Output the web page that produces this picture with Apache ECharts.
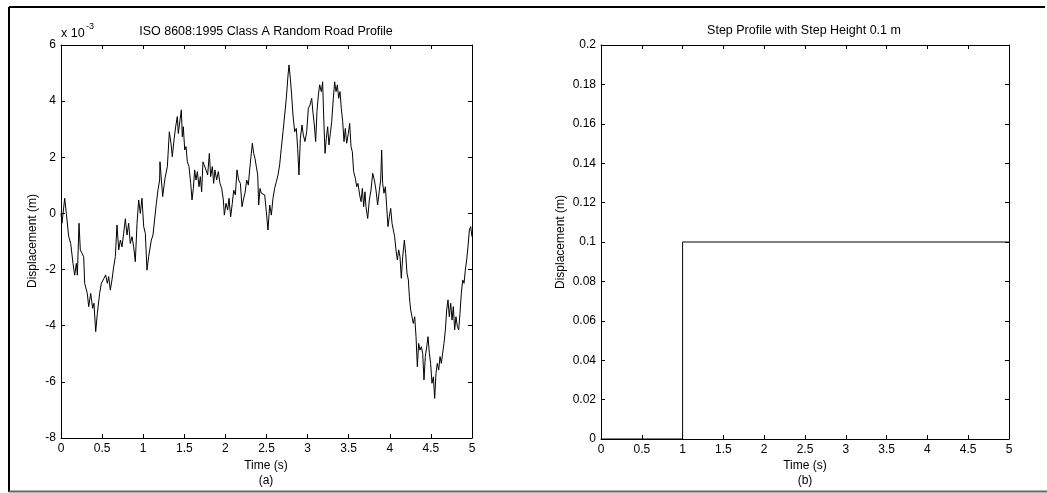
<!DOCTYPE html>
<html>
<head>
<meta charset="utf-8">
<script src="https://cdn.jsdelivr.net/npm/echarts@6/dist/echarts.min.js"></script>
<style>
  html, body { margin: 0; padding: 0; background: #fff; }
  #chart { width: 1047px; height: 493px; }
</style>
</head>
<body>
<div id="chart"></div>
<script>
// ---- Data (a): ISO 8608 Class A random road profile, displacement in units of 1e-3 m ----
const timeA = [
  0.000,0.012,0.045,0.065,0.093,0.118,0.146,0.166,0.187,0.199,
  0.219,0.235,0.255,0.276,0.288,0.320,0.337,0.361,0.385,0.401,
  0.422,0.442,0.470,0.491,0.523,0.543,0.564,0.580,0.600,0.620,
  0.641,0.661,0.681,0.702,0.722,0.742,0.762,0.783,0.803,0.823,
  0.843,0.864,0.884,0.904,0.925,0.945,0.965,0.985,1.006,1.026,
  1.046,1.066,1.083,1.099,1.119,1.139,1.160,1.180,1.200,
  1.204,1.237,1.265,1.294,1.318,1.338,1.354,1.375,1.395,1.415,
  1.427,1.448,1.464,1.476,1.488,1.505,1.521,1.537,1.557,1.578,
  1.594,1.610,1.626,1.642,1.659,1.679,1.695,1.711,1.727,1.748,
  1.764,1.784,1.805,1.821,1.841,1.857,1.873,1.894,1.914,1.934,
  1.955,1.975,1.987,2.007,2.028,2.044,2.064,2.084,2.101,2.121,
  2.141,2.161,2.182,2.202,2.218,2.238,2.259,2.279,2.295,2.311,
  2.328,2.344,2.360,2.376,2.393,2.405,2.421,2.437,
  2.457,2.478,2.498,2.518,2.539,2.559,2.579,2.599,2.620,2.640,
  2.660,2.680,2.701,2.721,2.741,2.762,2.774,2.790,2.806,2.822,
  2.843,2.863,2.879,2.895,2.912,2.932,2.948,2.968,2.989,3.009,
  3.029,3.050,3.066,3.082,3.098,3.114,3.131,3.147,3.167,3.183,
  3.195,3.212,3.228,3.244,3.260,3.277,3.293,3.313,3.329,3.346,
  3.362,3.378,3.394,3.410,3.427,3.443,3.459,3.475,3.496,3.512,
  3.528,3.544,3.560,3.581,3.597,3.613,3.633,3.650,3.666,3.682,
  3.698,
  3.710,3.731,3.751,3.771,3.792,3.812,3.832,3.852,3.873,3.889,
  3.901,3.913,3.929,3.946,3.962,3.978,3.994,4.011,4.027,4.043,
  4.059,4.075,4.092,4.108,4.124,4.140,4.157,4.177,4.193,4.209,
  4.226,4.238,4.254,4.270,4.286,4.303,4.319,4.335,4.351,4.367,
  4.384,4.400,4.416,4.432,4.449,4.465,4.481,4.497,4.513,4.530,
  4.546,4.562,4.578,4.595,4.611,4.627,4.643,4.659,4.676,4.692,
  4.708,4.724,4.741,4.757,4.773,4.789,4.805,4.822,4.838,4.854,
  4.870,4.887,4.903,4.919,4.935,4.951,4.968,4.984,5.000
];
const dispA = [
  0.0,-0.35,0.54,0.0,-0.81,-1.07,-1.78,-2.2,-1.78,-2.2,
  -0.35,-1.3,-1.36,-1.54,-2.49,-2.85,-3.32,-2.85,-3.38,-3.2,
  -4.21,-3.56,-2.85,-2.49,-2.31,-2.19,-2.49,-2.25,-2.73,-2.37,
  -1.9,-1.54,-0.41,-1.3,-0.95,-1.19,-0.72,-0.19,-0.77,-0.35,
  -1.07,-0.83,-1.19,-1.72,-0.35,0.48,0.0,0.54,-0.47,-0.71,
  -2.02,-1.54,-1.6,-0.95,-0.77,-0.71,0.36,0.84,1.19,
  1.84,0.60,1.25,1.67,2.91,2.50,2.02,2.62,3.09,3.45,
  2.85,3.33,3.69,2.73,3.09,2.26,2.38,1.84,1.67,1.07,
  0.48,0.89,1.55,1.19,1.49,0.95,1.31,0.77,1.84,1.78,
  1.55,1.37,2.14,1.31,1.67,1.07,1.55,1.19,1.49,1.07,
  0.89,0.48,-0.06,0.36,0.12,0.54,-0.12,0.36,0.83,0.66,
  1.55,1.19,1.07,0.24,0.48,0.72,1.19,1.01,1.55,2.02,
  2.50,2.14,1.96,1.67,1.37,0.30,0.89,0.72,
  0.77,0.66,0.06,-0.59,0.30,-0.06,0.54,0.89,1.13,1.37,
  1.73,2.32,2.91,3.51,4.10,4.93,5.29,4.81,4.22,3.51,
  2.91,3.03,2.32,1.37,2.68,3.15,2.79,2.56,2.91,3.74,
  3.86,4.10,3.57,3.15,2.56,3.63,4.22,4.58,4.34,4.69,
  3.51,2.14,2.68,3.09,2.44,2.85,3.27,4.10,4.69,4.34,
  4.58,4.10,4.34,3.74,3.27,2.56,3.03,2.50,2.85,3.21,
  2.38,2.20,1.49,1.25,0.95,1.07,0.66,0.42,0.89,0.24,
  0.77,
  0.24,-0.18,0.48,0.83,1.43,1.19,0.83,0.30,0.83,1.19,
  2.26,1.07,0.72,0.95,0.24,-0.47,-0.12,0.18,-0.35,-0.59,
  -0.83,-1.30,-1.66,-1.30,-1.54,-2.31,-1.54,-0.95,-1.42,-2.13,
  -2.37,-2.97,-3.44,-3.68,-3.92,-3.68,-4.39,-5.46,-4.63,-4.87,
  -4.75,-4.98,-5.93,-5.10,-4.75,-4.39,-4.98,-5.34,-6.05,-5.82,
  -6.59,-5.70,-5.34,-5.58,-5.10,-5.34,-4.98,-4.63,-4.15,-3.44,
  -3.08,-3.68,-3.20,-3.80,-3.32,-4.15,-3.68,-4.03,-4.15,-3.56,
  -2.85,-2.37,-2.49,-2.02,-1.66,-1.19,-0.59,-0.47,-0.83
];

// ---- Data (b): step profile, step height 0.1 m at t = 1 s ----
const timeB = [0, 1, 1, 5];
const dispB = [0, 0, 0.1, 0.1];

// ---- Axis definitions ----
const xRange = { min: 0, max: 5, interval: 0.5 };
const yRangeA = { min: -8, max: 6, interval: 2 };
const yRangeB = { min: 0, max: 0.2, interval: 0.02 };

const titleA = 'ISO 8608:1995 Class A Random Road Profile';
const titleB = 'Step Profile with Step Height 0.1 m';
const xName = 'Time (s)';
const yName = 'Displacement (m)';
const capA = '(a)';
const capB = '(b)';

const FONT = '"Liberation Sans", Arial, sans-serif';

const zip = (xs, ys) => xs.map((x, i) => [x, ys[i]]);

function xAxis(gridIndex, position, showLabel) {
  return {
    type: 'value', gridIndex, position,
    min: xRange.min, max: xRange.max, interval: xRange.interval,
    axisLine: { show: true, onZero: false, lineStyle: { color: '#000', width: 1 } },
    axisTick: { show: true, inside: true, length: 4, lineStyle: { color: '#000', width: 1 } },
    axisLabel: { show: showLabel, color: '#000', fontSize: 12, fontFamily: FONT, margin: 5,
      formatter: v => String(+v.toFixed(2)) },
    splitLine: { show: false }
  };
}
function yAxis(gridIndex, position, range, showLabel) {
  return {
    type: 'value', gridIndex, position,
    min: range.min, max: range.max, interval: range.interval,
    axisLine: { show: true, onZero: false, lineStyle: { color: '#000', width: 1 } },
    axisTick: { show: true, inside: true, length: 4, lineStyle: { color: '#000', width: 1 } },
    axisLabel: { show: showLabel, color: '#000', fontSize: 12, fontFamily: FONT, margin: 5,
      formatter: v => String(+v.toFixed(3)) },
    splitLine: { show: false }
  };
}

function txt(text, x, y, size, extra) {
  return Object.assign({
    type: 'text', x, y,
    style: { text, fill: '#000', font: size + 'px ' + FONT,
      align: 'center', verticalAlign: 'middle', textAlign: 'center', textVerticalAlign: 'middle' }
  }, extra || {});
}

const chart = echarts.init(document.getElementById('chart'), null, { renderer: 'canvas' });
chart.setOption({
  animation: false,
  backgroundColor: '#fff',
  grid: [
    { left: 61, top: 45, width: 411, height: 393 },
    { left: 601, top: 45, width: 408, height: 394 }
  ],
  xAxis: [
    xAxis(0, 'bottom', true), xAxis(0, 'top', false),
    xAxis(1, 'bottom', true), xAxis(1, 'top', false)
  ],
  yAxis: [
    yAxis(0, 'left', yRangeA, true), yAxis(0, 'right', yRangeA, false),
    yAxis(1, 'left', yRangeB, true), yAxis(1, 'right', yRangeB, false)
  ],
  series: [
    { type: 'line', xAxisIndex: 0, yAxisIndex: 0, data: zip(timeA, dispA),
      symbol: 'none', showSymbol: false, lineStyle: { color: '#000', width: 1 } },
    { type: 'line', xAxisIndex: 2, yAxisIndex: 2, data: zip(timeB, dispB),
      symbol: 'none', showSymbol: false, lineStyle: { color: '#000', width: 1 } }
  ],
  graphic: [
    // outer frame
    { type: 'line', shape: { x1: 9, y1: 7, x2: 1045, y2: 7 }, style: { stroke: '#000', lineWidth: 2 } },
    { type: 'line', shape: { x1: 9, y1: 7, x2: 9, y2: 492 }, style: { stroke: '#000', lineWidth: 2 } },
    { type: 'line', shape: { x1: 9, y1: 491.5, x2: 1047, y2: 491.5 }, style: { stroke: '#666', lineWidth: 2 } },
    // titles
    txt(titleA, 266, 32, 12.5),
    txt(titleB, 804, 31, 12.5),
    // exponent label
    { type: 'text', x: 61, y: 34, style: { text: 'x 10', fill: '#000', font: '12.5px ' + FONT, align: 'left', verticalAlign: 'middle', textAlign: 'left', textVerticalAlign: 'middle' } },
    { type: 'text', x: 86, y: 27, style: { text: '-3', fill: '#000', font: '9px ' + FONT, align: 'left', verticalAlign: 'middle', textAlign: 'left', textVerticalAlign: 'middle' } },
    // axis names
    txt(xName, 266, 466, 12),
    txt(xName, 805, 466, 12),
    txt(capA, 266, 481, 12),
    txt(capB, 805, 481, 12),
    txt(yName, 33, 241, 12, { rotation: Math.PI / 2 }),
    txt(yName, 561, 242, 12, { rotation: Math.PI / 2 })
  ]
});
</script>
</body>
</html>
